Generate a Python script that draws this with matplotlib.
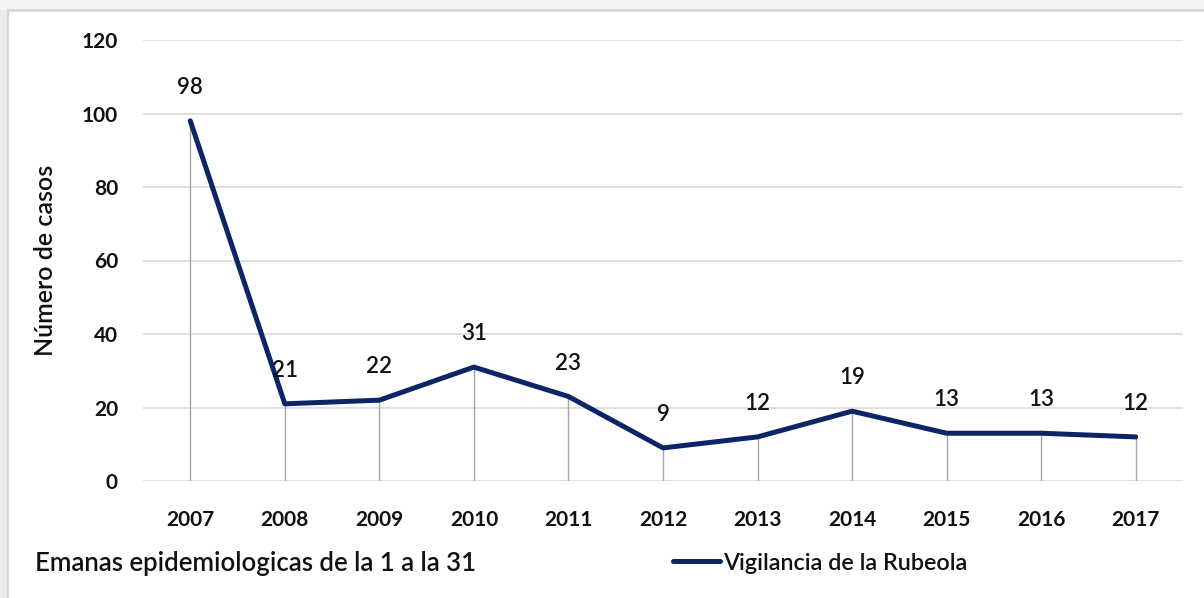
import matplotlib
matplotlib.use("Agg")
import matplotlib.pyplot as plt
from matplotlib.patches import Rectangle

# datos
years = ["2007", "2008", "2009", "2010", "2011", "2012", "2013", "2014", "2015", "2016", "2017"]
casos = [98, 21, 22, 31, 23, 9, 12, 19, 13, 13, 12]
yticks = [0, 20, 40, 60, 80, 100, 120]

navy = "#0b2566"
plt.rcParams['font.family'] = ['Lato', 'DejaVu Sans']

fig = plt.figure(figsize=(12.04, 5.98), dpi=100)
fig.patch.set_facecolor("white")

# marco gris claro de la imagen original
fig.patches.append(Rectangle((0, 0), 8 / 1204, 1, transform=fig.transFigure,
                             facecolor="#ebebeb", edgecolor="none", zorder=0))
fig.patches.append(Rectangle((0, 1 - 10 / 598), 1, 10 / 598, transform=fig.transFigure,
                             facecolor="#f4f4f4", edgecolor="none", zorder=0))
fig.add_artist(plt.Line2D([8 / 1204, 1], [1 - 10 / 598, 1 - 10 / 598], transform=fig.transFigure,
                          color="#d6d6d6", lw=2))
fig.add_artist(plt.Line2D([8 / 1204, 8 / 1204], [0, 1 - 10 / 598], transform=fig.transFigure,
                          color="#d6d6d6", lw=1.5))

ax = fig.add_axes([143 / 1204, 1 - 481 / 598, 1040 / 1204, 441 / 598])
x = list(range(len(years)))

ax.set_xlim(-0.5, len(years) - 0.5)
ax.set_ylim(0, 120)
ax.set_yticks(yticks)
ax.yaxis.grid(True, color="#d9d9d9", lw=1.2)
ax.set_axisbelow(True)
for s in ax.spines.values():
    s.set_visible(False)
ax.tick_params(length=0)
ax.tick_params(axis="y", pad=18)
ax.tick_params(axis="x", pad=21)
ax.set_xticks(x)
ax.set_xticklabels(years)
for lab in ax.get_xticklabels() + ax.get_yticklabels():
    lab.set_fontsize(15)
    lab.set_fontweight("bold")
    lab.set_color("#111111")

# lineas de caida
ax.vlines(x, 0, casos, color="#a6a6a6", lw=1, zorder=1)
line, = ax.plot(x, casos, color=navy, lw=3.6, solid_capstyle="round",
                solid_joinstyle="round", zorder=3)

for xi, v in zip(x, casos):
    ax.annotate(str(v), (xi, v), xytext=(0, 24), textcoords="offset points",
                ha="center", va="center", fontsize=16, fontweight="semibold",
                color="#111111")

ax.set_ylabel("Número de casos", fontsize=18, fontweight="semibold", color="#111111")
ax.yaxis.set_label_coords(-0.083, 0.5)

fig.text(35 / 1204, 1 - 563 / 598, "Emanas epidemiologicas de la 1 a la 31",
         fontsize=18.5, fontweight="semibold", va="center", ha="left", color="#111111")

leg = fig.legend([line], ["Vigilancia de la Rubeola"], loc="center left",
                 bbox_to_anchor=(652 / 1204, 1 - 563 / 598), frameon=False,
                 prop={"size": 16.8, "weight": "semibold"},
                 handlelength=2.0, handletextpad=0.15)
for t in leg.get_texts():
    t.set_color("#111111")

fig.savefig("out.png", dpi=100, facecolor="white")
